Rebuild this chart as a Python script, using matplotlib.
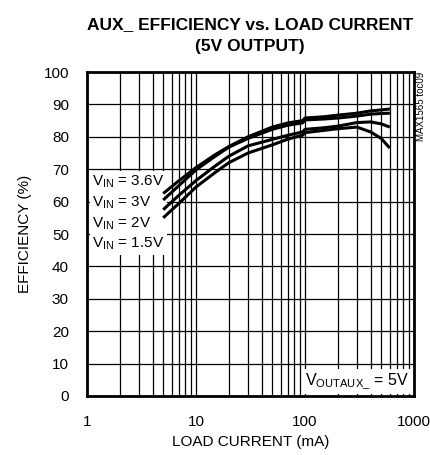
import matplotlib.pyplot as plt
from matplotlib.ticker import FixedLocator, NullFormatter

plt.rcParams['font.family'] = ['Liberation Sans', 'DejaVu Sans']
plt.rcParams['mathtext.fontset'] = 'custom'
plt.rcParams['mathtext.rm'] = 'Liberation Sans'

# load current (mA)
current = [5, 7, 10, 15, 20, 30, 50, 70, 95, 100, 150, 200, 300, 400, 500, 600]
# efficiency (%) for each input voltage
eff_36 = [62.5, 66.5, 70.5, 74.5, 77.0, 80.0, 83.0, 84.3, 85.0, 85.8, 86.2, 86.7, 87.3, 88.0, 88.3, 88.6]
eff_3 = [60.5, 65.0, 69.8, 74.0, 76.8, 79.5, 82.3, 83.6, 84.3, 85.2, 85.5, 85.8, 86.4, 87.0, 87.2, 87.3]
eff_2 = [57.5, 62.0, 66.5, 71.0, 74.0, 77.2, 79.2, 80.5, 81.5, 82.3, 82.8, 83.3, 84.4, 84.6, 84.0, 83.0]
eff_15 = [55.0, 59.5, 64.5, 69.0, 72.0, 75.0, 77.5, 79.3, 80.5, 81.3, 82.0, 82.5, 83.0, 81.5, 79.5, 76.5]

fig = plt.figure(figsize=(4.3, 4.55), dpi=100)
ax = fig.add_axes([0.2023, 0.1297, 0.7605, 0.712])

for eff in [eff_36, eff_3, eff_2, eff_15]:
    ax.plot(current, eff, color='black', lw=2.2, solid_capstyle='butt', zorder=3)

ax.set_xscale('log')
ax.set_xlim(1, 1000)
ax.set_ylim(0, 100)
ax.set_yticks(range(0, 101, 10))
ax.xaxis.set_major_locator(FixedLocator([1, 10, 100, 1000]))
ax.set_xticklabels(['1', '10', '100', '1000'])
minor = [m * d for d in [1, 10, 100] for m in range(2, 10)]
ax.xaxis.set_minor_locator(FixedLocator(minor))
ax.xaxis.set_minor_formatter(NullFormatter())
ax.grid(True, which='both', color='black', lw=0.9)
ax.tick_params(axis='y', which='both', length=0, labelsize=11, pad=13)
ax.tick_params(axis='x', which='both', length=0, labelsize=11, pad=14)
for s in ax.spines.values():
    s.set_linewidth(2)

ax.set_xlabel('LOAD CURRENT (mA)', fontsize=11, labelpad=4)
ax.set_ylabel('EFFICIENCY (%)', fontsize=11, labelpad=8)

fig.text(0.582, 0.945, 'AUX_ EFFICIENCY vs. LOAD CURRENT', ha='center', va='center',
         fontsize=12.5, fontweight='bold')
fig.text(0.582, 0.897, '(5V OUTPUT)', ha='center', va='center',
         fontsize=12.5, fontweight='bold')

legend_txt = ('V$_{\\mathrm{IN}}$ = 3.6V\nV$_{\\mathrm{IN}}$ = 3V\n'
              'V$_{\\mathrm{IN}}$ = 2V\nV$_{\\mathrm{IN}}$ = 1.5V')
ax.text(1.12, 56.5, legend_txt, ha='left', va='center', fontsize=11, linespacing=1.32,
        zorder=2, bbox=dict(facecolor='white', edgecolor='none', pad=2))
ax.text(900, 4.6, 'V$_{\\mathrm{OUTAUX\\_}}$ = 5V', ha='right', va='center', fontsize=11.5,
        zorder=2, bbox=dict(facecolor='white', edgecolor='none', pad=2))
fig.text(0.98, 0.842, 'MAX1565 toc09', rotation=90, ha='center', va='top', fontsize=7)

fig.savefig('out.png', dpi=100)
